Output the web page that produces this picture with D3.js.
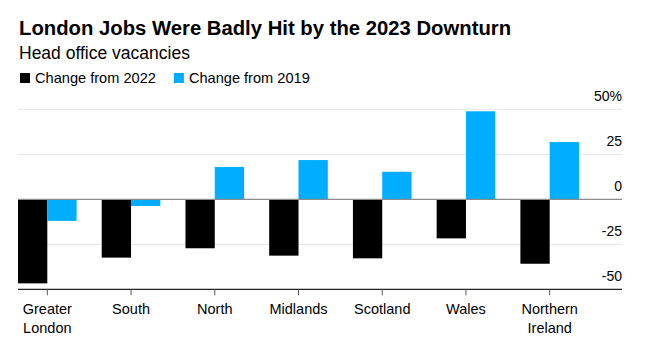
<!DOCTYPE html>
<html>
<head>
<meta charset="utf-8">
<script src="https://cdn.jsdelivr.net/npm/d3@7"></script>
<style>
  html, body { margin: 0; padding: 0; background: #fff; }
  svg { display: block; font-family: "Liberation Sans", Arial, sans-serif; }
</style>
</head>
<body>
<svg id="chart" width="668" height="348"></svg>
<script>
const categories = [["Greater", "London"], ["South"], ["North"], ["Midlands"], ["Scotland"], ["Wales"], ["Northern", "Ireland"]];
const change2022 = [-46.7, -32.4, -27.2, -31.3, -32.8, -21.7, -35.8];
const change2019 = [-12, -3.7, 18, 21.8, 15.3, 48.9, 31.8];
const seriesNames = ["Change from 2022", "Change from 2019"];
const seriesColors = ["#000000", "#00adff"];
const yTicks = [50, 25, 0, -25, -50];
const yTickLabels = ["50%", "25", "0", "-25", "-50"];

const svg = d3.select("#chart");
const left = 18, right = 622, barsRight = 579;
const y = d3.scaleLinear().domain([-50, 50]).range([289.3, 109.3]);
const catKeys = categories.map(c => c.join(" "));
const x0 = d3.scaleBand().domain(catKeys).range([left, barsRight]).paddingInner(0.3).paddingOuter(0).align(0);
const x1 = d3.scaleBand().domain([0, 1]).range([0, x0.bandwidth()]);

// Title
svg.append("text").attr("x", 19).attr("y", 35).attr("font-size", 20.3).attr("font-weight", "bold")
  .attr("fill", "#000").text("London Jobs Were Badly Hit by the 2023 Downturn");
svg.append("text").attr("x", 19).attr("y", 59).attr("font-size", 17.5).attr("fill", "#000")
  .text("Head office vacancies");

// Legend
const leg = svg.append("g");
let lx = 20;
seriesNames.forEach((name, i) => {
  leg.append("rect").attr("x", lx).attr("y", 73).attr("width", 10).attr("height", 10).attr("fill", seriesColors[i]);
  const t = leg.append("text").attr("x", lx + 15).attr("y", 83).attr("font-size", 14.6).attr("fill", "#000").text(name);
  lx += 15 + t.node().getComputedTextLength() + 18;
});

// Gridlines
svg.append("g").selectAll("line").data(yTicks.filter(d => d !== -50 && d !== 0)).join("line")
  .attr("x1", left).attr("x2", right).attr("y1", d => y(d)).attr("y2", d => y(d))
  .attr("stroke", "#e4e4e4").attr("stroke-width", 1);

// Y labels
svg.append("g").selectAll("text").data(yTicks).join("text")
  .attr("x", right).attr("y", d => y(d) - 8).attr("text-anchor", "end")
  .attr("font-size", 14).attr("fill", "#000")
  .text((d, i) => yTickLabels[i]);

// Bars
const groups = svg.append("g").selectAll("g").data(catKeys).join("g")
  .attr("transform", d => `translate(${x0(d)},0)`);
[change2022, change2019].forEach((vals, s) => {
  groups.append("rect")
    .attr("x", x1(s))
    .attr("width", x1.bandwidth())
    .attr("y", (d, i) => y(Math.max(0, vals[i])))
    .attr("height", (d, i) => Math.abs(y(vals[i]) - y(0)))
    .attr("fill", seriesColors[s]);
});

// Zero line
svg.append("line").attr("x1", left).attr("x2", right).attr("y1", y(0)).attr("y2", y(0))
  .attr("stroke", "#8c8c8c").attr("stroke-width", 1.2);

// X axis
const xAxis = svg.append("g").attr("transform", `translate(0,${y(-50)})`);
xAxis.append("line").attr("x1", left).attr("x2", right).attr("stroke", "#222").attr("stroke-width", 1.2);
const ticks = xAxis.selectAll("g").data(categories).join("g")
  .attr("transform", (d, i) => `translate(${x0(catKeys[i]) + x0.bandwidth() / 2},0)`);
ticks.append("line").attr("y1", 0).attr("y2", 6).attr("stroke", "#555");
ticks.each(function(d) {
  const g = d3.select(this);
  d.forEach((line, j) => {
    g.append("text").attr("y", 24.5 + j * 19.5).attr("text-anchor", "middle")
      .attr("font-size", 14.5).attr("fill", "#000").text(line);
  });
});
</script>
</body>
</html>
